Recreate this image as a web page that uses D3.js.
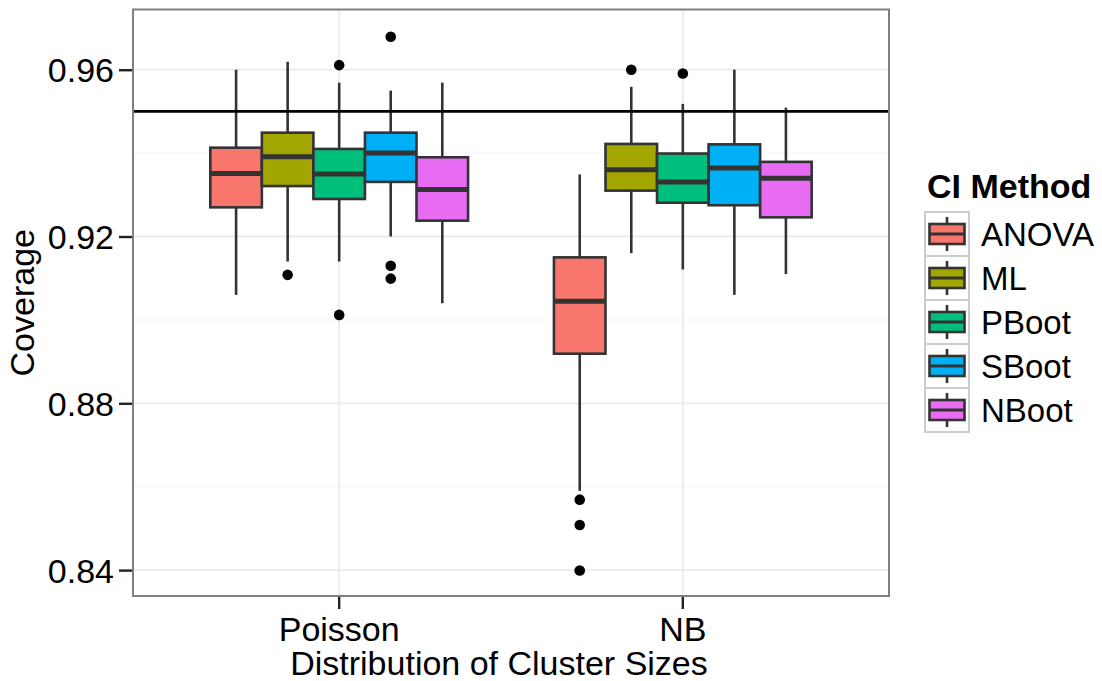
<!DOCTYPE html>
<html>
<head>
<meta charset="utf-8">
<script src="https://cdnjs.cloudflare.com/ajax/libs/d3/7.8.5/d3.min.js"></script>
<style>
  html, body { margin: 0; padding: 0; background: #ffffff; }
  svg { display: block; }
  text { font-family: "Liberation Sans", Arial, Helvetica, sans-serif; fill: #000; }
</style>
</head>
<body>
<svg id="chart" width="1102" height="681"></svg>
<script>
// Coverage of confidence intervals by method and cluster-size distribution.
const distributions = ["Poisson", "NB"];
const methods = ["ANOVA", "ML", "PBoot", "SBoot", "NBoot"];
const methodColors = ["#F8766D", "#A3A500", "#00BF7D", "#00B0F6", "#E76BF3"];

// Box summaries per method: [lower whisker, Q1, median, Q3, upper whisker]
const poissonBoxes = [
  [0.9060, 0.9270, 0.9351, 0.9413, 0.9600],
  [0.9140, 0.9321, 0.9391, 0.9449, 0.9619],
  [0.9140, 0.9290, 0.9350, 0.9410, 0.9569],
  [0.9200, 0.9331, 0.9400, 0.9449, 0.9550],
  [0.9040, 0.9238, 0.9313, 0.9390, 0.9569]
];
const nbBoxes = [
  [0.8590, 0.8919, 0.9045, 0.9150, 0.9349],
  [0.9160, 0.9310, 0.9360, 0.9422, 0.9559],
  [0.9121, 0.9281, 0.9331, 0.9399, 0.9518],
  [0.9060, 0.9275, 0.9364, 0.9421, 0.9600],
  [0.9110, 0.9246, 0.9340, 0.9379, 0.9509]
];

// Points beyond the whiskers, per method
const poissonOutliers = [[], [0.9108], [0.9611, 0.9012], [0.9679, 0.9130, 0.9099], []];
const nbOutliers = [[0.8569, 0.8508, 0.8399], [0.9600], [0.9591], [], []];

const yTicks = [0.84, 0.88, 0.92, 0.96];
const yMinorTicks = [0.86, 0.90, 0.94];
const nominalLevel = 0.95;

const xTitle = "Distribution of Cluster Sizes";
const yTitle = "Coverage";
const legendTitle = "CI Method";

// Layout
const panel = { left: 133, right: 889, top: 9.5, bottom: 596 };
const svg = d3.select("#chart");

const x = d3.scaleBand()
  .domain(distributions)
  .range([panel.left, panel.right])
  .paddingInner(0.25)
  .paddingOuter(0.225);

const xInner = d3.scaleBand()
  .domain(methods)
  .range([0, x.bandwidth()])
  .padding(0);

const y = d3.scaleLinear()
  .domain([0.83379, 0.97444])
  .range([panel.bottom, panel.top]);

const color = d3.scaleOrdinal().domain(methods).range(methodColors);

// Panel background and grid
svg.append("rect")
  .attr("x", panel.left).attr("y", panel.top)
  .attr("width", panel.right - panel.left).attr("height", panel.bottom - panel.top)
  .attr("fill", "#ffffff");

const grid = svg.append("g");
grid.selectAll("line.minor").data(yMinorTicks).join("line")
  .attr("x1", panel.left).attr("x2", panel.right)
  .attr("y1", d => y(d)).attr("y2", d => y(d))
  .attr("stroke", "#f7f7f7").attr("stroke-width", 1.5);
grid.selectAll("line.major").data(yTicks).join("line")
  .attr("x1", panel.left).attr("x2", panel.right)
  .attr("y1", d => y(d)).attr("y2", d => y(d))
  .attr("stroke", "#ebebeb").attr("stroke-width", 1.8);
grid.selectAll("line.vmajor").data(distributions).join("line")
  .attr("x1", d => x(d) + x.bandwidth() / 2).attr("x2", d => x(d) + x.bandwidth() / 2)
  .attr("y1", panel.top).attr("y2", panel.bottom)
  .attr("stroke", "#ebebeb").attr("stroke-width", 1.8);

// Boxplots
const boxData = [];
distributions.forEach((dist, di) => {
  const boxes = di === 0 ? poissonBoxes : nbBoxes;
  const outs = di === 0 ? poissonOutliers : nbOutliers;
  methods.forEach((m, mi) => {
    boxData.push({ dist, method: m, stats: boxes[mi], outliers: outs[mi] });
  });
});

const boxW = xInner.bandwidth();
const lineW = 2.6;
const groups = svg.append("g").selectAll("g.box").data(boxData).join("g")
  .attr("transform", d => `translate(${x(d.dist) + xInner(d.method)},0)`);

// whiskers
groups.append("line")
  .attr("x1", boxW / 2).attr("x2", boxW / 2)
  .attr("y1", d => y(d.stats[4])).attr("y2", d => y(d.stats[3]))
  .attr("stroke", "#333333").attr("stroke-width", lineW);
groups.append("line")
  .attr("x1", boxW / 2).attr("x2", boxW / 2)
  .attr("y1", d => y(d.stats[1])).attr("y2", d => y(d.stats[0]))
  .attr("stroke", "#333333").attr("stroke-width", lineW);
// boxes
groups.append("rect")
  .attr("x", 0).attr("width", boxW)
  .attr("y", d => y(d.stats[3]))
  .attr("height", d => y(d.stats[1]) - y(d.stats[3]))
  .attr("fill", d => color(d.method))
  .attr("stroke", "#333333").attr("stroke-width", lineW);
// medians
groups.append("line")
  .attr("x1", 0).attr("x2", boxW)
  .attr("y1", d => y(d.stats[2])).attr("y2", d => y(d.stats[2]))
  .attr("stroke", "#333333").attr("stroke-width", 5);
// outliers
groups.selectAll("circle").data(d => d.outliers).join("circle")
  .attr("cx", boxW / 2).attr("cy", d => y(d)).attr("r", 5.3)
  .attr("fill", "#000000");

// Nominal coverage reference
svg.append("line")
  .attr("x1", panel.left).attr("x2", panel.right)
  .attr("y1", y(nominalLevel)).attr("y2", y(nominalLevel))
  .attr("stroke", "#000000").attr("stroke-width", 2.6);

// Panel border
svg.append("rect")
  .attr("x", panel.left).attr("y", panel.top)
  .attr("width", panel.right - panel.left).attr("height", panel.bottom - panel.top)
  .attr("fill", "none").attr("stroke", "#7f7f7f").attr("stroke-width", 2);

// Y axis
const yAxis = d3.axisLeft(y).tickValues(yTicks).tickSize(13).tickPadding(5)
  .tickFormat(d3.format(".2f"));
const yAxisG = svg.append("g").attr("transform", `translate(${panel.left - 1},0)`).call(yAxis);
yAxisG.select(".domain").remove();
yAxisG.selectAll(".tick line").attr("stroke", "#222222").attr("stroke-width", 2.4);
yAxisG.selectAll(".tick text")
  .attr("font-size", 34).attr("fill", "#000").attr("dy", "0.35em")
  .attr("font-family", "Liberation Sans, Arial, sans-serif");

// X axis
const xAxis = d3.axisBottom(x).tickSize(12).tickPadding(8);
const xAxisG = svg.append("g").attr("transform", `translate(0,${panel.bottom + 1})`).call(xAxis);
xAxisG.select(".domain").remove();
xAxisG.selectAll(".tick line").attr("stroke", "#222222").attr("stroke-width", 2.4);
xAxisG.selectAll(".tick text")
  .attr("font-size", 34).attr("fill", "#000").attr("dy", "0.72em")
  .attr("font-family", "Liberation Sans, Arial, sans-serif");

// Axis titles
svg.append("text")
  .attr("x", 499).attr("y", 675)
  .attr("text-anchor", "middle").attr("font-size", 34)
  .text(xTitle);
svg.append("text")
  .attr("transform", `translate(34,${(panel.top + panel.bottom) / 2}) rotate(-90)`)
  .attr("text-anchor", "middle").attr("font-size", 34)
  .text(yTitle);

// Legend
const legend = svg.append("g");
legend.append("text")
  .attr("x", 927).attr("y", 198)
  .attr("font-size", 34).attr("font-weight", "bold")
  .text(legendTitle);

const keySize = 44;
const keyTop = 212;
const keyLeft = 925;
const keys = legend.selectAll("g.key").data(methods).join("g")
  .attr("transform", (d, i) => `translate(${keyLeft},${keyTop + i * keySize})`);
keys.append("rect")
  .attr("x", 0).attr("y", 0).attr("width", keySize).attr("height", keySize)
  .attr("fill", "#ffffff").attr("stroke", "#cccccc").attr("stroke-width", 2);
keys.append("line")
  .attr("x1", keySize / 2).attr("x2", keySize / 2)
  .attr("y1", 5).attr("y2", keySize - 5)
  .attr("stroke", "#333333").attr("stroke-width", lineW);
keys.append("rect")
  .attr("x", 4.5).attr("y", keySize / 2 - 10).attr("width", keySize - 9).attr("height", 20)
  .attr("fill", d => color(d)).attr("stroke", "#333333").attr("stroke-width", lineW);
keys.append("line")
  .attr("x1", 4.5).attr("x2", keySize - 4.5)
  .attr("y1", keySize / 2).attr("y2", keySize / 2)
  .attr("stroke", "#333333").attr("stroke-width", 3.2);
keys.append("text")
  .attr("x", keySize + 12).attr("y", keySize / 2 + 12)
  .attr("font-size", 33)
  .text(d => d);
</script>
</body>
</html>
